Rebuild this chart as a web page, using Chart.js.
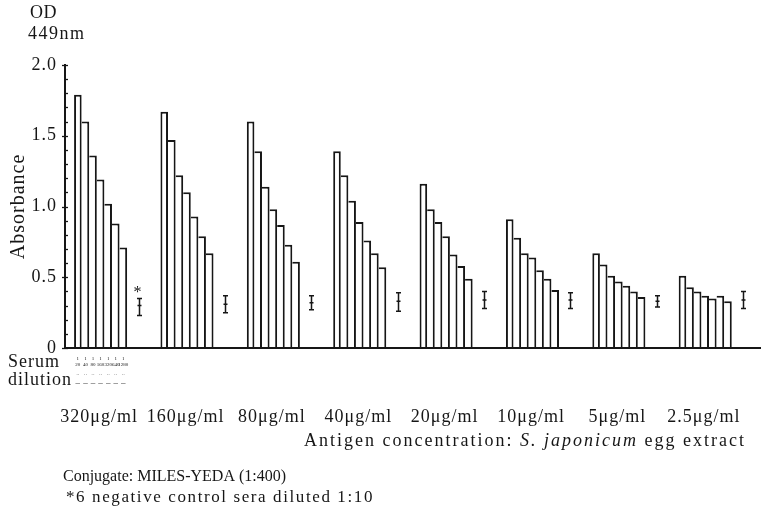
<!DOCTYPE html>
<html><head><meta charset="utf-8">
<script src="https://cdn.jsdelivr.net/npm/chart.js@4/dist/chart.umd.min.js"></script>
<style>html,body{margin:0;padding:0;background:#fff}#wrap{width:761px;height:512px;position:relative}</style>
</head><body><div id="wrap"><canvas id="c" width="761" height="512"></canvas></div>
<script>
// ---- data ----
const concentrations = ['320μg/ml','160μg/ml','80μg/ml','40μg/ml','20μg/ml','10μg/ml','5μg/ml','2.5μg/ml'];
const serumDenominators = ['20','40','80','160','320','640','1280'];
const dil1 = [1.79,1.67,1.60,1.39,1.16,0.91,0.67,0.51];
const dil2 = [1.60,1.47,1.39,1.22,0.98,0.78,0.59,0.43];
const dil3 = [1.36,1.22,1.14,1.04,0.89,0.67,0.51,0.40];
const dil4 = [1.19,1.10,0.98,0.89,0.79,0.64,0.47,0.37];
const dil5 = [1.02,0.93,0.87,0.76,0.66,0.55,0.44,0.35];
const dil6 = [0.88,0.79,0.73,0.67,0.58,0.49,0.40,0.37];
const dil7 = [0.71,0.67,0.61,0.57,0.49,0.41,0.36,0.33];
const controlLow  = [0.23,0.25,0.27,0.26,0.28,0.28,0.29,0.28];
const controlHigh = [0.35,0.37,0.37,0.39,0.40,0.39,0.37,0.40];
const controlMean = [0.30,0.31,0.32,0.33,0.34,0.34,0.33,0.34];
const yMajorTicks = [0, 0.5, 1.0, 1.5, 2.0];

const INK = '#161616';
const SERIF = '"Liberation Serif", "DejaVu Serif", serif';
const dilutionSeries = [dil1, dil2, dil3, dil4, dil5, dil6, dil7];

const datasets = dilutionSeries.map((arr, i) => ({
  label: 'Serum 1:' + serumDenominators[i],
  data: arr,
  backgroundColor: '#ffffff',
  borderColor: INK,
  borderWidth: {top: 2, right: 2, bottom: 0, left: i === 0 ? 2 : 0},
  borderSkipped: 'start',
  barPercentage: 1,
  categoryPercentage: 0.79
}));
datasets.push({label: 'gap', data: concentrations.map(() => null), backgroundColor: 'transparent', borderWidth: 0, barPercentage: 1, categoryPercentage: 0.79});
datasets.push({label: 'control', data: controlLow.map((v, i) => [v, controlHigh[i]]), backgroundColor: 'transparent', borderWidth: 0, barPercentage: 1, categoryPercentage: 0.79});

function txt(ctx, s, x, y, font, spacing) {
  ctx.font = font; ctx.letterSpacing = spacing + 'px';
  ctx.fillText(s, x, y);
  return ctx.measureText(s).width;
}

const extras = {
  id: 'extras',
  beforeDraw(chart) { chart.ctx.letterSpacing = '1px'; },
  beforeDatasetsDraw(chart) {
    const ctx = chart.ctx, y = chart.scales.y, a = chart.chartArea;
    ctx.letterSpacing = '0px';
    ctx.save();
    ctx.strokeStyle = INK; ctx.lineWidth = 1.3;
    y.ticks.forEach(t => {
      const py = Math.round(y.getPixelForValue(t.value)) + 0.5;
      const major = yMajorTicks.some(m => Math.abs(m - t.value) < 1e-6);
      ctx.beginPath();
      ctx.moveTo(a.left - (major ? 3 : 0), py);
      ctx.lineTo(a.left + 3, py);
      ctx.stroke();
    });
    ctx.restore();
  },
  afterDatasetsDraw(chart) {
    const ctx = chart.ctx, y = chart.scales.y, a = chart.chartArea;
    ctx.save();
    ctx.strokeStyle = INK; ctx.fillStyle = INK;
    const by = y.getPixelForValue(0);
    ctx.lineWidth = 2;
    ctx.beginPath(); ctx.moveTo(a.left, by); ctx.lineTo(chart.width, by); ctx.stroke();
    // control error bars
    const cm = chart.getDatasetMeta(8);
    ctx.lineWidth = 1.5;
    cm.data.forEach((el, i) => {
      const x = Math.round(el.x) + 0.5;
      const top = y.getPixelForValue(controlHigh[i]);
      const bot = y.getPixelForValue(controlLow[i]);
      const mid = y.getPixelForValue(controlMean[i]);
      ctx.beginPath();
      ctx.moveTo(x, top); ctx.lineTo(x, bot);
      ctx.moveTo(x - 2.5, top); ctx.lineTo(x + 2.5, top);
      ctx.moveTo(x - 2.5, bot); ctx.lineTo(x + 2.5, bot);
      ctx.moveTo(x - 2, mid); ctx.lineTo(x + 2, mid);
      ctx.stroke();
      if (i === 0) {
        ctx.textAlign = 'center'; ctx.textBaseline = 'alphabetic';
        txt(ctx, '*', x - 2, top - 1, '16px ' + SERIF, 0);
      }
    });
    // serum dilution micro-legend under first group
    ctx.textAlign = 'center'; ctx.textBaseline = 'alphabetic';
    for (let d = 0; d < 7; d++) {
      const x = chart.getDatasetMeta(d).data[0].x;
      txt(ctx, '1', x, 360, '5px ' + SERIF, 0);
      txt(ctx, serumDenominators[d], x, 366, '5px ' + SERIF, 0);
      txt(ctx, '··', x, 376, '5px ' + SERIF, 0);
      txt(ctx, '–', x, 385, '9px ' + SERIF, 0);
    }
    // texts
    ctx.textAlign = 'left';
    const F18 = '18px ' + SERIF;
    txt(ctx, 'OD', 30, 18, F18, 0.5);
    txt(ctx, '449nm', 28, 39, F18, 1.5);
    txt(ctx, 'Serum', 8, 367, F18, 1);
    txt(ctx, 'dilution', 8, 385, F18, 1);
    txt(ctx, 'Conjugate: MILES-YEDA (1:400)', 63, 481, '16px ' + SERIF, 0);
    txt(ctx, '*6 negative control sera diluted 1:10', 66, 502, '17px ' + SERIF, 1.6);
    // antigen line, right aligned at 745
    const p1 = 'Antigen concentration: ', p2 = 'S. japonicum', p3 = ' egg extract', sp = 2;
    ctx.letterSpacing = sp + 'px';
    ctx.font = F18; const w1 = ctx.measureText(p1).width, w3 = ctx.measureText(p3).width;
    ctx.font = 'italic ' + F18; const w2 = ctx.measureText(p2).width;
    let sx = 746 - (w1 + w2 + w3);
    txt(ctx, p1, sx, 446, F18, sp); sx += w1;
    txt(ctx, p2, sx, 446, 'italic ' + F18, sp); sx += w2;
    txt(ctx, p3, sx, 446, F18, sp);
    ctx.letterSpacing = '0px';
    ctx.restore();
  }
};

new Chart(document.getElementById('c'), {
  type: 'bar',
  data: {labels: concentrations, datasets},
  options: {
    responsive: false,
    animation: false,
    events: [],
    layout: {padding: {top: 65, right: 5, bottom: 0, left: 0}},
    plugins: {legend: {display: false}, tooltip: {enabled: false}, title: {display: false}},
    scales: {
      x: {
        grid: {display: true, drawOnChartArea: false, drawTicks: true, tickLength: 54, color: 'rgba(0,0,0,0)'},
        border: {display: false},
        ticks: {color: INK, font: {family: SERIF, size: 18}, padding: 4, labelOffset: -9, maxRotation: 0, autoSkip: false},
        afterFit(s) { s.height = 164; }
      },
      y: {
        min: 0, max: 2,
        grid: {display: false, drawTicks: false},
        border: {display: true, color: INK, width: 2},
        ticks: {
          stepSize: 0.1, autoSkip: false, color: INK, padding: 8,
          font: {family: SERIF, size: 18},
          callback: v => yMajorTicks.some(m => Math.abs(m - v) < 1e-6) ? (v === 0 ? '0' : v.toFixed(1)) : ''
        },
        title: {display: true, text: 'Absorbance', color: INK, font: {family: SERIF, size: 20}, padding: {top: 7, bottom: 0}},
        afterFit(s) { s.width = 65; }
      }
    }
  },
  plugins: [extras]
});
</script>
</body></html>
